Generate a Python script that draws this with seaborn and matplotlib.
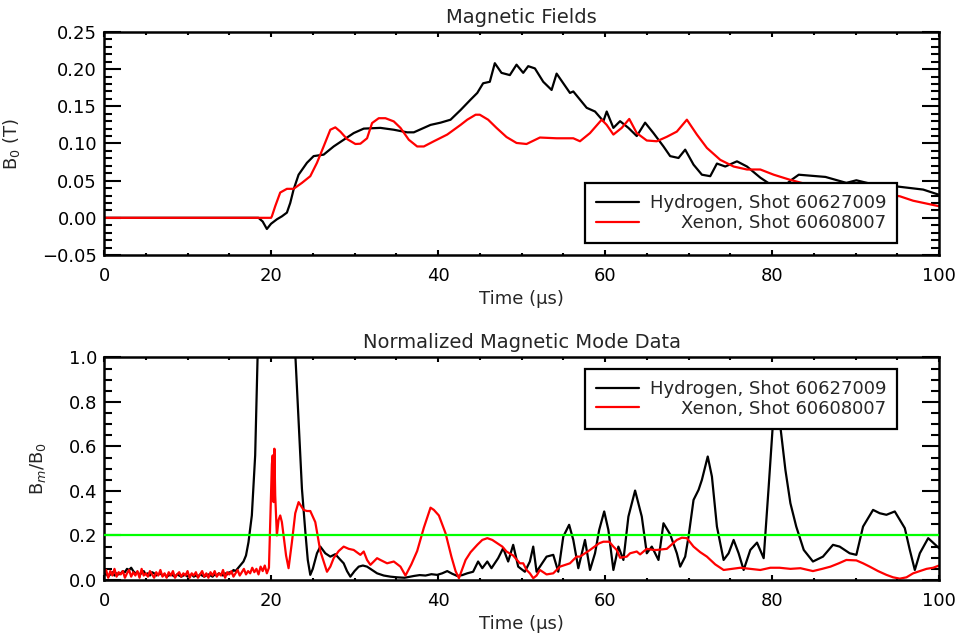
import numpy as np
import matplotlib
matplotlib.use("Agg")
import matplotlib.pyplot as plt
import matplotlib.ticker as mticker
import seaborn as sns

# ---------------- data ----------------
top_title = "Magnetic Fields"
bot_title = "Normalized Magnetic Mode Data"
xlabel = "Time (μs)"
top_ylabel = "B$_0$ (T)"
bot_ylabel = "B$_m$/B$_0$"
label_h = "Hydrogen, Shot 60627009"
label_x = "Xenon, Shot 60608007"
threshold = 0.2

# Top panel: B0 (T)
h_b0_t = [0, 18.5, 19.0, 19.5, 20.0, 20.7, 21.3, 21.9, 22.3, 22.7, 23.3, 24.3, 25.1, 26.3,
          27.5, 28.7, 29.9, 31.1, 33.1, 34.7, 36.3, 37.1, 38.3, 39.1, 40.3, 41.5, 42.7,
          43.9, 44.7, 45.4, 46.2, 46.8, 47.6, 48.6, 49.4, 50.2, 50.8, 51.6, 52.6, 53.6,
          54.2, 55.0, 55.8, 56.2, 57.0, 57.8, 58.8, 59.8, 60.2, 61.0, 61.8, 62.8, 63.8,
          64.8, 65.8, 67.0, 67.8, 68.8, 69.6, 70.6, 71.6, 72.6, 73.4, 74.4, 75.8, 77.0,
          78.6, 80.2, 81.2, 82.2, 83.2, 86.4, 88.9, 90.1, 92.1, 95.1, 98.1, 100]
h_b0_v = [0, 0, -0.005, -0.015, -0.008, -0.002, 0.002, 0.007, 0.02, 0.038, 0.058, 0.074,
          0.083, 0.085, 0.096, 0.105, 0.114, 0.12, 0.121, 0.1185, 0.115, 0.115, 0.121,
          0.125, 0.128, 0.132, 0.145, 0.159, 0.168, 0.181, 0.183, 0.208, 0.195, 0.192,
          0.206, 0.195, 0.204, 0.201, 0.183, 0.172, 0.194, 0.181, 0.168, 0.170, 0.159,
          0.148, 0.143, 0.130, 0.143, 0.121, 0.130, 0.121, 0.110, 0.128, 0.114, 0.096,
          0.083, 0.0805, 0.0917, 0.0715, 0.058, 0.056, 0.073, 0.069, 0.076, 0.069, 0.054,
          0.042, 0.04, 0.05, 0.058, 0.055, 0.047, 0.0505, 0.045, 0.042, 0.038, 0.031]

x_b0_t = [0, 20.0, 20.1, 20.5, 21.1, 21.9, 22.7, 23.7, 24.7, 25.5, 26.3, 27.1, 27.7, 28.3,
          29.1, 30.1, 30.7, 31.5, 32.1, 32.9, 33.7, 34.7, 35.5, 36.5, 37.5, 38.3, 39.5,
          41.1, 42.7, 43.5, 44.5, 45.0, 46.0, 47.0, 48.2, 49.4, 50.6, 52.2, 54.2, 56.2,
          57.0, 58.2, 59.6, 60.2, 61.0, 62.0, 62.9, 63.8, 65.0, 66.2, 67.4, 68.6, 69.8,
          71.0, 72.2, 73.8, 75.4, 77.0, 78.6, 80.2, 82.2, 84.2, 86.5, 89.0, 92.0, 95.3,
          96.9, 100]
x_b0_v = [0, 0, 0.002, 0.0156, 0.034, 0.039, 0.039, 0.047, 0.056, 0.074, 0.096, 0.1185,
          0.1217, 0.116, 0.106, 0.0993, 0.0997, 0.107, 0.1275, 0.134, 0.134, 0.1297, 0.121,
          0.105, 0.096, 0.096, 0.103, 0.112, 0.125, 0.132, 0.1387, 0.1387, 0.132, 0.121,
          0.1087, 0.1007, 0.0993, 0.108, 0.107, 0.107, 0.103, 0.114, 0.132, 0.125, 0.112,
          0.121, 0.133, 0.114, 0.104, 0.103, 0.109, 0.116, 0.132, 0.112, 0.094, 0.078,
          0.069, 0.065, 0.065, 0.058, 0.051, 0.045, 0.042, 0.038, 0.034, 0.029, 0.023,
          0.0156]

# Bottom panel: Bm/B0
h_bm_t = [0.0, 0.25, 0.5, 0.75, 1.0, 1.25, 1.5, 1.75, 2.0, 2.25, 2.5, 2.75, 3.0, 3.25,
          3.5, 3.75, 4.0, 4.25, 4.5, 4.75, 5.0, 5.25, 5.5, 5.75, 6.0, 6.25, 6.5, 6.75,
          7.0, 7.25, 7.5, 7.75, 8.0, 8.25, 8.5, 8.75, 9.0, 9.25, 9.5, 9.75, 10.0, 10.25,
          10.5, 10.75, 11.0, 11.25, 11.5, 11.75, 12.0, 12.25, 12.5, 12.75, 13.0, 13.25,
          13.5, 13.75, 14.0, 14.25, 14.5, 14.75, 15.0, 15.25, 15.5, 15.75,
          16.3, 16.7, 17.0, 17.3, 17.7, 18.1, 18.4, 18.8, 19.5, 20.5, 21.5, 22.3, 22.9,
          23.3, 23.7, 24.1, 24.4, 24.7, 25.0, 25.5, 25.9, 26.5, 27.1, 27.7, 28.2, 28.7,
          29.1, 29.5, 30.0, 30.5, 31.0, 31.5, 32.1, 32.7, 33.5, 34.3, 35.1, 36.0, 37.1,
          37.8, 38.5, 39.2, 39.9, 40.5, 41.1, 41.7, 42.3, 42.9, 43.5, 44.2, 44.8, 45.3,
          45.9, 46.4, 47.2, 47.8, 48.4, 49.0, 49.6, 50.4, 51.0, 51.4, 51.8, 52.2, 53.0,
          53.8, 54.4, 55.0, 55.7, 56.2, 56.8, 57.6, 58.2, 58.8, 59.3, 59.9, 60.4, 61.0,
          61.6, 62.2, 62.8, 63.6, 64.4, 65.0, 65.6, 66.4, 67.0, 67.8, 68.6, 69.0, 69.6,
          70.0, 70.6, 71.2, 71.6, 72.3, 72.8, 73.4, 74.2, 74.8, 75.4, 76.0, 76.6, 77.4,
          78.2, 79.0, 79.6, 80.1, 80.5, 80.9, 81.6, 82.2, 82.9, 83.8, 84.9, 86.1, 87.3,
          88.1, 89.3, 90.1, 90.9, 92.1, 92.9, 93.7, 94.7, 95.9, 96.5, 97.1, 97.7, 98.7,
          100]
h_bm_v = [0.02, 0.03, 0.015, 0.025, 0.035, 0.02, 0.03, 0.025,
          0.03, 0.04, 0.035, 0.05, 0.045, 0.055, 0.04, 0.03,
          0.035, 0.025, 0.03, 0.04, 0.025, 0.03, 0.02, 0.035,
          0.03, 0.02, 0.025, 0.03, 0.02, 0.025, 0.015, 0.02,
          0.025, 0.02, 0.015, 0.025, 0.02, 0.015, 0.02, 0.025,
          0.015, 0.02, 0.025, 0.015, 0.02, 0.015, 0.025, 0.02,
          0.015, 0.02, 0.025, 0.02, 0.015, 0.025, 0.02, 0.03,
          0.025, 0.02, 0.03, 0.025, 0.035, 0.03, 0.045, 0.04,
          0.065, 0.083, 0.11, 0.17, 0.29, 0.56, 1.02, 1.6, 2.2, 2.5, 2.3, 1.7, 1.02,
          0.71, 0.41, 0.22, 0.09, 0.023, 0.05, 0.12, 0.15, 0.12, 0.105, 0.116, 0.095,
          0.075, 0.04, 0.015, 0.04, 0.06, 0.065, 0.06, 0.045, 0.03, 0.02, 0.015, 0.012,
          0.01, 0.018, 0.022, 0.02, 0.026, 0.023, 0.03, 0.04, 0.028, 0.018, 0.022, 0.03,
          0.037, 0.083, 0.053, 0.083, 0.053, 0.098, 0.143, 0.083, 0.158, 0.06, 0.037,
          0.083, 0.15, 0.037, 0.06, 0.105, 0.113, 0.037, 0.195, 0.248, 0.18, 0.053, 0.18,
          0.045, 0.12, 0.225, 0.308, 0.225, 0.045, 0.15, 0.09, 0.285, 0.402, 0.285, 0.12,
          0.15, 0.09, 0.255, 0.205, 0.12, 0.06, 0.105, 0.195, 0.36, 0.405, 0.45, 0.555,
          0.465, 0.24, 0.09, 0.12, 0.18, 0.12, 0.045, 0.135, 0.168, 0.098, 0.42, 0.70,
          0.85, 0.72, 0.495, 0.345, 0.24, 0.135, 0.083, 0.105, 0.158, 0.15, 0.12, 0.113,
          0.24, 0.315, 0.30, 0.293, 0.308, 0.233, 0.135, 0.045, 0.12, 0.188, 0.143]

x_bm_t = [0.0, 0.25, 0.5, 0.75, 1.0, 1.25, 1.5, 1.75, 2.0, 2.25, 2.5, 2.75, 3.0, 3.25,
          3.5, 3.75, 4.0, 4.25, 4.5, 4.75, 5.0, 5.25, 5.5, 5.75, 6.0, 6.25, 6.5, 6.75,
          7.0, 7.25, 7.5, 7.75, 8.0, 8.25, 8.5, 8.75, 9.0, 9.25, 9.5, 9.75, 10.0, 10.25,
          10.5, 10.75, 11.0, 11.25, 11.5, 11.75, 12.0, 12.25, 12.5, 12.75, 13.0, 13.25,
          13.5, 13.75, 14.0, 14.25, 14.5, 14.75, 15.0, 15.25, 15.5, 15.75, 16.0, 16.25,
          16.5, 16.75, 17.0, 17.25, 17.5, 17.75, 18.0, 18.25, 18.5, 18.75, 19.0, 19.25,
          19.5, 19.75,
          20.1, 20.2, 20.3, 20.4, 20.5, 20.7, 20.9, 21.1, 21.3, 21.5, 21.8, 22.1, 22.5,
          22.9, 23.3, 23.9, 24.3, 24.7, 25.3, 25.9, 26.7, 27.1, 27.5, 28.1, 28.7, 29.3,
          29.9, 30.7, 31.1, 31.5, 31.9, 32.7, 33.1, 33.9, 34.7, 35.5, 36.1, 36.8, 37.5,
          38.3, 39.1, 39.5, 40.1, 40.9, 41.6, 42.1, 42.5, 43.0, 43.3, 43.9, 44.7, 45.3,
          45.9, 46.5, 47.1, 47.7, 48.2, 49.0, 49.8, 50.2, 50.6, 51.0, 51.4, 51.8, 52.2,
          53.0, 53.8, 54.6, 55.8, 56.6, 57.0, 58.2, 59.3, 59.8, 60.5, 61.0, 61.4, 61.8,
          62.6, 63.0, 63.8, 64.2, 65.0, 65.8, 66.2, 67.4, 68.6, 69.2, 69.8, 70.6, 71.4,
          72.2, 73.2, 74.2, 75.2, 76.2, 77.4, 78.6, 79.8, 80.9, 82.2, 83.4, 84.9, 86.0,
          87.0, 88.0, 88.9, 90.1, 90.9, 91.7, 92.7, 93.7, 94.5, 95.3, 96.1, 96.9, 97.7,
          98.5, 99.3, 100]
x_bm_v = [0.03, 0.045, 0.01, 0.04, 0.02, 0.05, 0.015, 0.035,
          0.025, 0.04, 0.01, 0.03, 0.045, 0.015, 0.035, 0.02,
          0.04, 0.01, 0.05, 0.02, 0.03, 0.015, 0.04, 0.025,
          0.01, 0.035, 0.02, 0.045, 0.015, 0.03, 0.01, 0.035,
          0.02, 0.04, 0.01, 0.025, 0.035, 0.015, 0.03, 0.02,
          0.04, 0.01, 0.03, 0.02, 0.035, 0.01, 0.025, 0.04,
          0.015, 0.03, 0.01, 0.035, 0.02, 0.04, 0.015, 0.03,
          0.02, 0.045, 0.01, 0.035, 0.025, 0.04, 0.015, 0.03,
          0.045, 0.02, 0.035, 0.05, 0.025, 0.04, 0.03, 0.055,
          0.035, 0.05, 0.025, 0.06, 0.04, 0.065, 0.03, 0.055,
          0.52, 0.56, 0.35, 0.59, 0.38, 0.2, 0.27, 0.29, 0.26, 0.2, 0.11, 0.053, 0.17,
          0.30, 0.35, 0.315, 0.31, 0.31, 0.26, 0.13, 0.037, 0.06, 0.098, 0.13, 0.15, 0.14,
          0.135, 0.113, 0.128, 0.09, 0.068, 0.098, 0.09, 0.075, 0.083, 0.06, 0.02, 0.07,
          0.13, 0.235, 0.325, 0.315, 0.29, 0.21, 0.105, 0.04, 0.008, 0.06, 0.09, 0.125,
          0.158, 0.18, 0.188, 0.18, 0.165, 0.15, 0.128, 0.11, 0.075, 0.075, 0.045, 0.03,
          0.008, 0.02, 0.045, 0.025, 0.03, 0.06, 0.075, 0.105, 0.105, 0.135, 0.165, 0.172,
          0.172, 0.15, 0.135, 0.10, 0.105, 0.12, 0.128, 0.115, 0.14, 0.135, 0.135, 0.14,
          0.18, 0.19, 0.188, 0.15, 0.125, 0.105, 0.07, 0.045, 0.05, 0.055, 0.05, 0.045,
          0.055, 0.055, 0.05, 0.053, 0.04, 0.05, 0.06, 0.075, 0.09, 0.088, 0.075, 0.06,
          0.04, 0.023, 0.012, 0.006, 0.012, 0.03, 0.04, 0.05, 0.055, 0.065]

# ---------------- styling ----------------
sns.set_style("ticks")
plt.rcParams['font.family'] = ['DejaVu Sans']
plt.rcParams['mathtext.fontset'] = 'dejavusans'
FS = 13

fig = plt.figure(figsize=(9.58, 6.37), dpi=100)
ax1 = fig.add_axes([0.1086, 0.5997, 0.8716, 0.3501])
ax2 = fig.add_axes([0.1086, 0.0895, 0.8716, 0.3493])

LW = 1.6
sns.lineplot(x=h_b0_t, y=h_b0_v, ax=ax1, color='black', linewidth=LW,
             label=label_h, estimator=None, sort=False)
sns.lineplot(x=x_b0_t, y=x_b0_v, ax=ax1, color='#ff0000', linewidth=LW,
             label=label_x, estimator=None, sort=False)

sns.lineplot(x=h_bm_t, y=h_bm_v, ax=ax2, color='black', linewidth=LW,
             label=label_h, estimator=None, sort=False)
sns.lineplot(x=x_bm_t, y=x_bm_v, ax=ax2, color='#ff0000', linewidth=LW,
             label=label_x, estimator=None, sort=False)
ax2.axhline(threshold, color='#00ff00', linewidth=1.6, zorder=3)


def fmt(decimals):
    return mticker.FuncFormatter(
        lambda v, p: f"{v:.{decimals}f}".replace('-', '\u2212'))


for ax, ylim, ymaj, ymin, dec, title, ylab, lcoord in [
        (ax1, (-0.05, 0.25), 0.05, 0.01, 2, top_title, top_ylabel, -0.098),
        (ax2, (0.0, 1.0), 0.2, 0.05, 1, bot_title, bot_ylabel, -0.067)]:
    ax.set_xlim(0, 100)
    ax.set_ylim(*ylim)
    ax.xaxis.set_major_locator(mticker.MultipleLocator(20))
    ax.xaxis.set_minor_locator(mticker.MultipleLocator(5))
    ax.yaxis.set_major_locator(mticker.MultipleLocator(ymaj))
    ax.yaxis.set_minor_locator(mticker.MultipleLocator(ymin))
    ax.yaxis.set_major_formatter(fmt(dec))
    ax.tick_params(which='both', direction='in', top=True, right=True,
                   colors='black', labelsize=FS, width=1.5)
    ax.tick_params(axis='x', which='major', length=3.3, pad=9)
    ax.tick_params(axis='x', which='minor', length=1.8)
    ax.tick_params(axis='y', which='major', length=12.2, pad=5)
    ax.tick_params(axis='y', which='minor', length=5.8)
    for s in ax.spines.values():
        s.set_linewidth(1.8)
        s.set_color('black')
    ax.set_title(title, fontsize=FS + 1, pad=6.5)
    ax.set_xlabel(xlabel, fontsize=FS, labelpad=3)
    ax.set_ylabel(ylab, fontsize=FS)
    ax.yaxis.set_label_coords(lcoord, 0.5)

legs = []
for ax, loc, anchor in [(ax1, 'lower right', (0.9497, 0.054)),
                        (ax2, 'upper right', (0.9497, 0.948))]:
    h, l = ax.get_legend_handles_labels()
    leg = ax.legend(h, l, loc=loc, bbox_to_anchor=anchor, borderaxespad=0,
                    frameon=True, fancybox=False, edgecolor='black',
                    framealpha=1, facecolor='white', fontsize=FS,
                    handlelength=2.4, handletextpad=0.6, labelspacing=0.1,
                    borderpad=0.6)
    leg.get_frame().set_linewidth(1.6)
    leg.set_zorder(5)
    legs.append(leg)

# right-align legend labels (IDL style)
fig.canvas.draw()
for leg in legs:
    texts = leg.get_texts()
    ws = [t.get_window_extent().width for t in texts]
    mw = max(ws)
    for t, w in zip(texts, ws):
        t.set_position((mw - w, 0))

fig.savefig("out.png", dpi=100, facecolor='white')
